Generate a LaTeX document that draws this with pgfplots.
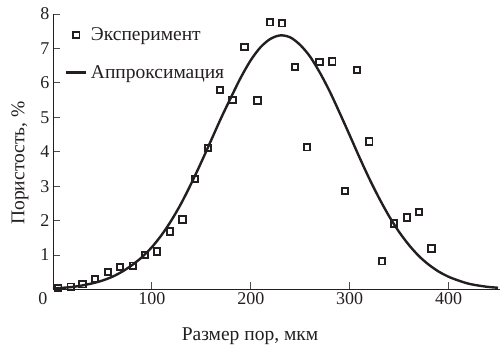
\documentclass[border=0pt]{standalone}
\usepackage{pgfplots}
\pgfplotsset{compat=1.18}
\usepackage{fontspec}
\setmainfont{Liberation Serif}
\definecolor{ink}{HTML}{231F20}
\newcommand{\fs}{\fontsize{18}{21}\selectfont}
\newcommand{\fl}{\fontsize{19.5}{23}\selectfont}
\pgfplotsset{
  markleg/.style={legend image code/.code={\draw[##1] plot coordinates {(10pt,0pt)};}},
  lineleg/.style={legend image code/.code={\draw[##1] (0pt,0pt) -- (20pt,0pt);}},
}
\begin{document}
\begin{tikzpicture}
\path (-53pt,-62.5pt) rectangle (448pt,289.5pt);
\begin{axis}[
  scale only axis,
  width=447pt, height=275.5pt,
  xmin=0, xmax=452, ymin=0, ymax=8,
  axis x line=bottom, axis y line=left,
  axis line style={-, draw=ink, line width=0.8pt},
  tick align=inside,
  major tick length=7pt,
  tick style={draw=ink!80, line width=0.8pt},
  xtick={100,200,300,400},
  ytick={1,2,3,4,5,6,7,8},
  extra x ticks={0},
  extra x tick labels={0},
  extra x tick style={major tick length=0pt, xticklabel style={xshift=-10pt}},
  /pgf/number format/assume math mode=true,
  ticklabel style={font=\fs, text=ink},
  xlabel={Размер пор, мкм},
  ylabel={Пористость, \%},
  xlabel style={font=\fl, text=ink, at={(axis description cs:0.4407,-0.1688)}, anchor=center},
  ylabel style={font=\fl, text=ink, at={(axis description cs:-0.0738,0.459)}, anchor=center},
  legend style={draw=none, fill=none, font=\fl, text=ink,
    at={(axis cs:12,7.66)}, anchor=north west,
    row sep=19pt, inner sep=0pt,
    nodes={inner xsep=3.5pt}},
  legend cell align=left,
]
\addplot[only marks, mark=square, mark size=3.2pt,
  mark options={draw=ink, line width=1.9pt, fill=white}, markleg]
coordinates {
(5.4,0.04) (17.9,0.08) (29.7,0.15) (42.5,0.30) (55.4,0.51) (67.8,0.66)
(81,0.69) (93.1,1.00) (105,1.10) (118.4,1.68) (130.9,2.03) (143.7,3.21)
(156.6,4.11) (169,5.79) (181.5,5.51) (193.6,7.04) (206.7,5.49) (219.3,7.76)
(231.8,7.73) (244.9,6.46) (257,4.13) (269.5,6.60) (282.4,6.62) (295.5,2.86)
(307.4,6.37) (319.8,4.30) (332.7,0.82) (345,1.92) (358,2.09) (370,2.25)
(382.6,1.19)
};
\addlegendentry{Эксперимент}
\addplot[draw=ink, line width=2.4pt, smooth, no marks, lineleg]
coordinates {
(0,0.03) (10,0.05) (20,0.075) (30,0.12) (40,0.18) (50,0.26) (60,0.37)
(70,0.52) (80,0.71) (90,0.94) (100,1.23) (110,1.59) (120,2.02) (130,2.52)
(140,3.09) (150,3.70) (160,4.34) (170,4.98) (180,5.58) (190,6.16)
(200,6.66) (210,7.04) (220,7.28) (230,7.38) (240,7.32) (250,7.10)
(260,6.76) (270,6.29) (280,5.74) (290,5.12) (300,4.48) (310,3.83)
(320,3.21) (330,2.64) (340,2.12) (350,1.67) (360,1.29) (370,0.97)
(380,0.72) (390,0.52) (400,0.37) (410,0.26) (420,0.17) (430,0.115)
(440,0.075) (450,0.05)
};
\addlegendentry{Аппроксимация}
\end{axis}
\end{tikzpicture}
\end{document}
